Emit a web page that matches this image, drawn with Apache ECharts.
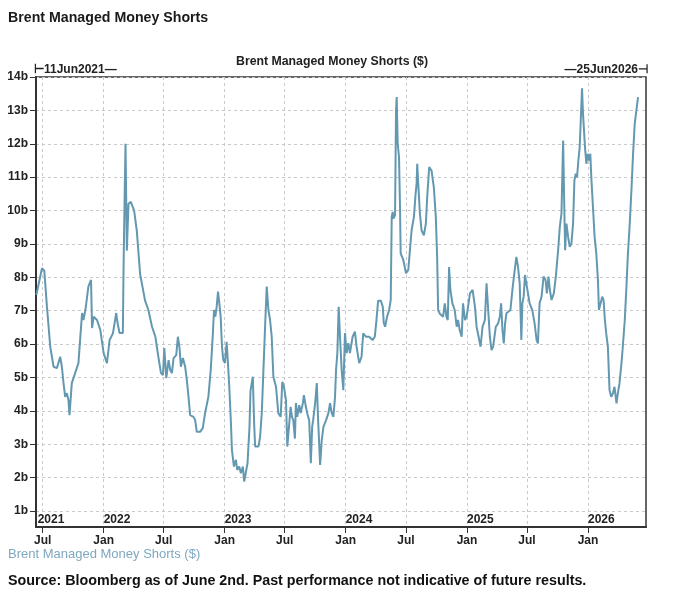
<!DOCTYPE html>
<html><head><meta charset="utf-8">
<script src="https://cdn.jsdelivr.net/npm/echarts@6/dist/echarts.min.js"></script>
<style>html,body{margin:0;padding:0;background:#fff}#c{width:680px;height:610px}</style>
</head><body><div id="c"></div><script>
const startDate = '2021-06-11';
const endDate = '2026-06-25';
const seriesName = 'Brent Managed Money Shorts ($)';
// days after startDate
const dayOffsets = [1,18,25,33,43,53,63,73,78,83,88,93,98,101,108,118,128,133,139,143,149,158,166,169,174,184,194,204,214,222,232,242,246,252,262,264,267,270,274,279,286,296,304,314,
329,339,350,360,369,377,383,387,393,400,405,410,415,423,428,433,437,443,450,455,460,465,475,480,485,495,503,510,520,527,533,537,541,545,549,553,557,561,565,570,575,579,583,588,591,597,603,607,613,618,624,628,634,638,644,
647,654,658,661,671,676,681,686,691,696,701,706,711,716,724,731,738,743,748,754,758,764,768,772,776,781,784,788,794,798,805,808,814,818,824,829,833,836,842,847,851,857,862,867,875,882,887,892,897,902,905,909,913,917,922,927,932,937,942,947,955,962,967,975,
982,987,995,1005,1015,1022,1027,1032,1040,1046,1049,1053,1059,1065,1070,1073,1076,1078,1083,1086,1088,1091,1095,1098,1100,1108,1116,1123,1128,1133,1140,1145,1148,1150,1153,1158,1163,1170,1176,1180,1186,1193,1200,1206,1210,1213,1218,1228,1233,1238,1242,1246,1250,1256,1263,1269,1273,1278,1284,1288,1294,1299,1309,
1317,1324,1329,1337,1341,1347,1354,1359,1364,1369,1374,1379,1387,1394,1399,1403,1407,1411,1415,1419,1424,1431,1437,1444,1449,1454,1459,1464,1467,1471,1475,1479,1484,1489,1497,1504,1510,1514,1519,1525,1531,1537,1541,1546,1550,1555,1562,1568,1575,1580,1585,1590,1593,1596,1600,1605,1610,1615,1620,1624,1628,1632,1636,1640,1644,1647,1650,1653,1656,1660,1664,1668,1672,1675,1680,1685,1690,1695,1698,1702,1708,1712,1716,1720,1725,1730,1735,1740,1745,1751,1755,1760,1766,1770,1776,1781,1785,1791,1796,1801,1806,1811,1816];
// billions of dollars
const shortsBn = [7.47,8.27,8.2,7.12,5.92,5.32,5.28,5.62,5.32,4.83,4.42,4.53,4.32,3.87,4.83,5.13,5.43,6.12,6.93,6.72,7.02,7.72,7.92,6.48,6.82,6.72,6.42,5.73,5.43,6.12,6.32,6.93,6.63,6.33,6.33,8.22,10.2,12.0,8.8,10.2,10.26,10.0,9.4,8.1,
7.3,7.02,6.52,6.22,5.62,5.13,5.07,5.88,4.98,5.52,5.22,5.13,5.58,5.67,6.22,5.88,5.32,5.58,5.32,4.92,4.42,3.87,3.82,3.72,3.37,3.37,3.48,3.93,4.42,5.22,6.22,7.02,6.82,7.12,7.57,7.22,6.82,5.92,5.52,5.43,6.07,5.43,4.72,3.63,2.83,2.33,2.53,2.23,2.33,2.13,2.33,1.88,1.83,2.43,3.52,
4.6,5.02,3.63,2.93,2.93,3.22,3.93,5.22,6.52,7.72,7.02,6.72,6.22,5.02,4.72,3.93,3.82,4.87,4.72,4.32,2.93,3.63,4.12,3.82,3.72,3.17,4.23,3.82,4.17,3.93,4.23,4.47,4.12,3.93,3.72,2.43,3.52,3.72,4.23,4.83,3.72,2.38,3.13,3.52,3.72,3.93,4.23,3.93,3.82,4.42,5.22,5.73,7.12,6.22,5.22,4.62,6.33,5.73,6.03,5.73,6.22,6.37,5.92,5.43,
5.62,6.32,6.22,6.22,6.12,6.22,6.72,7.3,7.3,7.12,6.63,6.52,6.82,7.02,7.32,9.81,9.96,9.76,9.86,13.0,13.4,12.0,11.61,10.1,8.72,8.52,8.12,8.22,8.82,9.41,9.81,10.5,10.8,11.4,10.8,9.91,9.41,9.26,9.61,10.4,11.3,11.2,10.7,9.81,8.61,7.02,6.91,6.82,7.22,6.82,6.72,8.31,7.62,7.22,7.02,6.52,6.72,6.42,6.22,7.22,6.72,6.82,7.52,
7.62,7.12,6.52,6.12,5.92,6.52,6.72,7.82,7.02,6.22,5.82,5.92,6.52,6.62,6.82,7.22,6.42,6.02,6.62,6.92,6.97,7.02,7.62,8.22,8.61,8.31,7.82,6.12,7.22,7.42,8.07,7.82,7.52,7.22,7.02,6.62,6.12,6.02,7.22,7.42,8.02,7.92,7.52,8.02,7.62,7.32,7.52,8.02,8.82,9.51,9.91,12.1,10.4,8.81,9.61,9.21,8.91,9.01,9.61,10.9,11.1,11.0,11.5,11.9,12.9,13.66,12.9,12.4,11.9,11.4,11.7,11.5,11.7,11.0,10.1,9.21,8.72,7.92,7.02,7.02,7.42,7.32,6.72,6.32,5.92,4.62,4.42,4.52,4.72,4.22,4.52,4.82,5.42,5.92,6.72,7.72,8.61,9.61,10.6,11.7,12.6,13.0,13.4];
const monthTicks = ['2021-07-01','2022-01-01','2022-07-01','2023-01-01','2023-07-01','2024-01-01','2024-07-01','2025-01-01','2025-07-01','2026-01-01'];
const yearTicks = ['2021-06-16','2022-01-01','2023-01-01','2024-01-01','2025-01-01','2026-01-01'];
const yearTickLabels = ['2021','2022','2023','2024','2025','2026'];
const yTicks = [1,2,3,4,5,6,7,8,9,10,11,12,13,14];

const DAY = 86400000;
const t0 = Date.parse(startDate);
const t1 = Date.parse(endDate);
const data = dayOffsets.map((d, i) => [t0 + d * DAY, shortsBn[i]]);
const monthTs = monthTicks.map(s => Date.parse(s));
const yearTs = yearTicks.map(s => Date.parse(s));

const NARROW = "'Liberation Sans Narrow','Liberation Sans',Arial,sans-serif";
const SANS = "'Liberation Sans',Arial,sans-serif";
const lineColor = '#6398b1';
const gridCol = '#c9c9c9';

const chart = echarts.init(document.getElementById('c'), null, {renderer: 'canvas'});
chart.setOption({
  animation: false,
  backgroundColor: '#fff',
  title: [
    {text: 'Brent Managed Money Shorts', left: 8, top: 11, padding: 0,
     textStyle: {fontSize: 14.2, fontWeight: 'bold', color: '#1a1a1a', fontFamily: SANS}},
    {text: seriesName, left: 236, top: 56, padding: 0,
     textStyle: {fontSize: 12.3, fontWeight: 'bold', color: '#222', fontFamily: SANS}},
    {text: '\u22A211Jun2021\u2014', left: 34, top: 64, padding: 0,
     textStyle: {fontSize: 12, fontWeight: 'bold', color: '#222', fontFamily: NARROW}},
    {text: '\u201425Jun2026\u22A3', right: 32, top: 64, padding: 0,
     textStyle: {fontSize: 12, fontWeight: 'bold', color: '#222', fontFamily: NARROW}},
    {text: 'Source: Bloomberg as of June 2nd. Past performance not indicative of future results.', left: 8, top: 574, padding: 0,
     textStyle: {fontSize: 14.3, fontWeight: 'bold', color: '#111', fontFamily: SANS}}
  ],
  legend: {
    left: 3, top: 548, padding: 0, itemWidth: 0, itemHeight: 0, icon: 'rect',
    data: [seriesName],
    textStyle: {color: '#7fa8c0', fontSize: 13, fontFamily: NARROW}
  },
  grid: {left: 36, right: 34, top: 77, bottom: 83, show: true, borderColor: '#333', borderWidth: 1.5, containLabel: false},
  xAxis: [
    {type: 'value', min: t0, max: t1, position: 'bottom', scale: true,
     axisLine: {show: true, onZero: false, lineStyle: {color: '#333', width: 2}},
     axisTick: {show: true, customValues: monthTs, length: 6, lineStyle: {color: '#333'}},
     axisLabel: {customValues: monthTs, margin: 8, fontSize: 12, fontWeight: 'bold', color: '#222', fontFamily: NARROW,
       formatter: v => new Date(v).getUTCMonth() === 0 ? 'Jan' : 'Jul'},
     splitLine: {show: true, lineStyle: {type: [3, 3], color: gridCol}}},
    {type: 'value', min: t0, max: t1, position: 'bottom', scale: true,
     axisLine: {show: false, onZero: false}, axisTick: {show: false}, splitLine: {show: false},
     axisLabel: {inside: true, customValues: yearTs, margin: 1, align: 'left', fontSize: 12, fontWeight: 'bold', color: '#222', fontFamily: NARROW,
       formatter: v => { const i = yearTs.indexOf(v); return i >= 0 ? yearTickLabels[i] : ''; }}}
  ],
  yAxis: {
    type: 'value', min: 0.52, max: 14,
    axisLine: {show: true, lineStyle: {color: '#333', width: 2}},
    axisTick: {show: true, customValues: yTicks, length: 6, lineStyle: {color: '#333'}},
    axisLabel: {customValues: yTicks, margin: 8, fontSize: 12, fontWeight: 'bold', color: '#222', fontFamily: NARROW,
      formatter: v => v + 'b'},
    splitLine: {show: true, lineStyle: {type: [3, 3], color: gridCol}}
  },
  series: [{
    name: seriesName, type: 'line', data: data, showSymbol: false, symbol: 'none',
    lineStyle: {color: lineColor, width: 2}, itemStyle: {color: lineColor}
  }]
});
</script></body></html>
